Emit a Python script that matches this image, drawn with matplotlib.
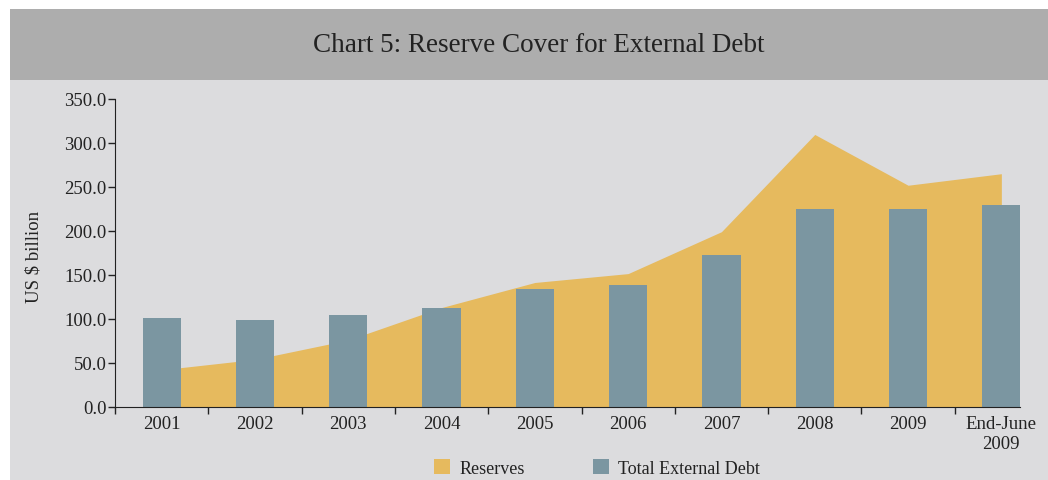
import matplotlib.pyplot as plt
from matplotlib.patches import Rectangle, Patch

# Data (US $ billion)
years = ['2001', '2002', '2003', '2004', '2005', '2006', '2007', '2008', '2009', 'End-June\n2009']
reserves = [42.3, 54.1, 76.1, 113.0, 141.5, 151.6, 199.2, 309.7, 252.0, 265.1]
external_debt = [101.3, 98.8, 104.9, 112.0, 134.0, 139.1, 172.4, 224.5, 224.6, 229.0]

plt.rcParams['font.family'] = ['Liberation Serif', 'DejaVu Serif']

fig = plt.figure(figsize=(10.48, 4.81), dpi=100)
W, H = 1048, 481

# Background panel and title band
fig.patches.append(Rectangle((10 / W, 0), 1 - 10 / W, 1 - 10 / H, transform=fig.transFigure,
                             facecolor='#dcdcde', edgecolor='none', zorder=-10))
fig.patches.append(Rectangle((10 / W, 1 - 81 / H), 1 - 10 / W, 71 / H, transform=fig.transFigure,
                             facecolor='#adadad', edgecolor='none', zorder=-10))
fig.text(539 / W, 1 - 46 / H, 'Chart 5: Reserve Cover for External Debt',
         ha='center', va='center', fontsize=19.5, color='#222222')

ax = fig.add_axes([115 / W, 1 - 408 / H, 1 - 115 / W, 308 / H])
ax.set_facecolor('none')

x = list(range(len(years)))
ax.fill_between(x, reserves, 0, color='#e6ba5e', linewidth=0, zorder=1)
ax.bar(x, external_debt, width=0.41, color='#7b96a1', zorder=2)

ax.set_xlim(-0.5, 9.5)
ax.set_ylim(0, 350)
ax.set_yticks(range(0, 351, 50))
ax.set_yticklabels(['%.1f' % v for v in range(0, 351, 50)])
ax.set_xticks(x)
ax.set_xticklabels(years)
ax.set_xticks([i + 0.5 for i in range(-1, 9)], minor=True)
ax.tick_params(axis='x', which='major', length=0, pad=6)
ax.tick_params(axis='x', which='minor', length=5, width=1, color='#222222')
ax.tick_params(axis='y', length=5, width=1, color='#222222', pad=1)
ax.tick_params(labelsize=13.5, labelcolor='#222222')

for s in ['top', 'right']:
    ax.spines[s].set_visible(False)
ax.spines['left'].set_color('#222222')
ax.spines['bottom'].set_color('#222222')
ax.spines['bottom'].set_bounds(-0.5, 9.2)

ax.set_ylabel('US $ billion', fontsize=13.5, color='#222222')
ax.yaxis.set_label_coords(-72 / 933, 0.49)

handles = [Patch(facecolor='#e6ba5e', label='Reserves'),
           Patch(facecolor='#7b96a1', label='Total External Debt')]
fig.legend(handles=handles, loc='center', bbox_to_anchor=(597 / W, 1 - 469 / H), ncol=2,
           frameon=False, fontsize=13, handlelength=0.9, handleheight=0.9,
           handletextpad=0.5, columnspacing=3.8, labelcolor='#222222')

plt.savefig('out.png', dpi=100)
